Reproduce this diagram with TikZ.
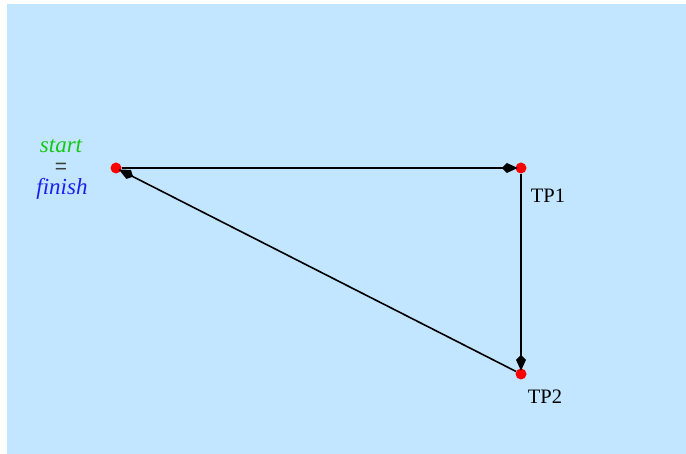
\documentclass[tikz,border=0pt]{standalone}
\usepackage{fontspec}
\setmainfont{Liberation Serif}
\newfontfamily\eqfont{Liberation Sans}
\usetikzlibrary{arrows.meta}
\definecolor{bgblue}{RGB}{194,230,255}
\definecolor{startgreen}{RGB}{20,200,20}
\definecolor{finishblue}{RGB}{30,30,240}
\definecolor{eqgray}{RGB}{60,60,60}
\tikzset{
  pt/.style={circle,fill=red,inner sep=0pt,minimum size=11pt},
  leg/.style={draw=black,line width=1.6pt,shorten >=-2.5pt,-{Kite[length=16pt,width=10pt,inset=5pt]}},
  lab/.style={font=\fontsize{20.5pt}{22pt}\selectfont,text=black},
  endlab/.style={font=\fontsize{23pt}{24pt}\selectfont\itshape,inner sep=0pt}
}
\begin{document}
\begin{tikzpicture}[x=1pt,y=-1pt]
\useasboundingbox (0,0) rectangle (686,454);
\fill[bgblue] (7,4) rectangle (686,454);
\node[pt] (S) at (116,168) {};
\node[pt] (T1) at (521,168) {};
\node[pt] (T2) at (521,374) {};
\draw[leg] (S) -- (T1);
\draw[leg] (T1) -- (T2);
\draw[leg] (T2) -- (S);
\node[endlab,text=startgreen] (st) at (61,146) {start};
\node[inner sep=0pt,font=\eqfont\fontsize{21pt}{22pt}\selectfont,text=eqgray] (eq) at (61,168) {=};
\node[endlab,text=finishblue] (fi) at (62,189) {finish};
\node[lab] (l1) at (548,196) {TP1};
\node[lab] (l2) at (545,397) {TP2};
\end{tikzpicture}
\end{document}
